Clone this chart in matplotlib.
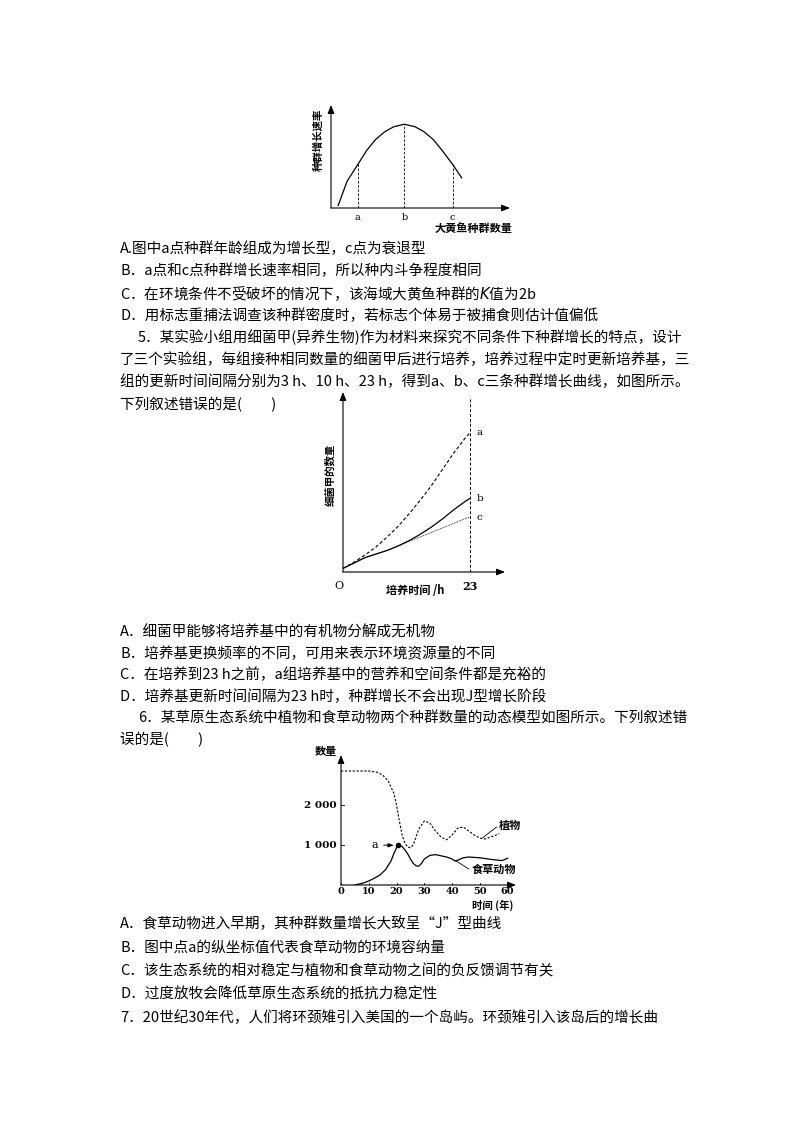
import matplotlib
matplotlib.use("Agg")
import matplotlib.pyplot as plt

plt.rcParams['font.family'] = ['Noto Sans CJK SC', 'DejaVu Sans']

# ---- data ----
# chart 1: growth rate vs population size
c1_x = [0.4, 0.9, 1.5, 2.0, 2.5, 3.0, 3.5, 4.1, 4.7, 5.2, 5.7, 6.2, 6.8, 7.3]
c1_y = [0.03, 0.32, 0.52, 0.69, 0.82, 0.91, 0.97, 1.0, 0.97, 0.91, 0.82, 0.69, 0.52, 0.36]
c1_ticks = {'a': 1.5, 'b': 4.1, 'c': 6.8}

# chart 2: bacteria counts
c2_t = [0, 2, 4, 6, 8, 10, 12, 14, 16, 18, 20, 22, 23]
c2_a = [0.2, 0.55, 0.95, 1.4, 1.95, 2.55, 3.25, 4.0, 4.8, 5.7, 6.6, 7.4, 7.75]
c2_b = [0.2, 0.5, 0.8, 1.0, 1.2, 1.45, 1.75, 2.1, 2.5, 2.95, 3.45, 3.9, 4.1]
c2_c = [0.2, 0.5, 0.8, 1.0, 1.2, 1.45, 1.7, 1.95, 2.2, 2.45, 2.7, 2.95, 3.05]

# chart 3: plants and herbivores
plant_t = [0, 5, 10, 13, 15, 17, 19, 20, 21, 22, 23, 24, 25, 26, 27, 28, 30, 32, 34, 36, 38, 40, 42, 44, 46, 48, 50, 52, 55, 57]
plant_v = [2850, 2850, 2850, 2820, 2750, 2600, 2300, 2000, 1600, 1250, 1050, 950, 930, 1000, 1200, 1400, 1600, 1550, 1350, 1200, 1130, 1250, 1420, 1450, 1350, 1250, 1170, 1150, 1230, 1280]
herb_t = [5, 8, 10, 12, 14, 16, 18, 19, 20, 21, 22, 23, 24, 25, 26, 27, 28, 29, 30, 32, 34, 36, 38, 40, 41, 42, 44, 46, 50, 54, 58, 60]
herb_v = [0, 50, 100, 170, 250, 380, 600, 780, 930, 990, 960, 880, 780, 650, 540, 480, 470, 540, 650, 740, 760, 730, 700, 650, 600, 620, 680, 700, 680, 640, 610, 670]
c3_xticks = [0, 10, 20, 30, 40, 50, 60]
c3_yticks = [1000, 2000]
c3_ylabels = ['1 000', '2 000']

W, H = 800, 1132
fig = plt.figure(figsize=(8, 11.32), dpi=100)

def T(x, y, s, **kw):
    kw.setdefault('fontsize', 10.5)
    fig.text(x / W, 1 - y / H, s, va='center', ha=kw.pop('ha', 'left'), **kw)

def axes_px(l, b, r, t):
    ax = fig.add_axes([l / W, 1 - b / H, (r - l) / W, (b - t) / H])
    ax.set_axis_off()
    return ax

arrow = dict(arrowstyle='-|>,head_length=0.5,head_width=0.2', color='black', lw=0.8, shrinkA=0, shrinkB=0)

# ---- chart 1 ----
ax1 = axes_px(331, 208, 510, 105)
ax1.set_xlim(0, 10); ax1.set_ylim(0, 1.23)
ax1.annotate('', xy=(10, 0), xytext=(0, 0), arrowprops=arrow, annotation_clip=False)
ax1.annotate('', xy=(0, 1.23), xytext=(0, 0), arrowprops=arrow, annotation_clip=False)
ax1.plot(c1_x, c1_y, color='black', lw=0.9)
for lab, xv in c1_ticks.items():
    yv = c1_y[c1_x.index(xv)]
    ax1.plot([xv, xv], [0, yv], color='black', lw=0.6, dashes=(3, 2))
    ax1.text(xv, -0.06, lab, ha='center', va='top', fontsize=7, family='DejaVu Serif')
T(318, 140, '种群增长速率', fontsize=7.5, rotation=90, ha='center', fontweight='bold')
T(474, 228, '大黄鱼种群数量', fontsize=8, ha='center', fontweight='bold')

lines1 = [
    (120, 'A.图中a点种群年龄组成为增长型，c点为衰退型'),
    (120, 'B．a点和c点种群增长速率相同，所以种内斗争程度相同'),
    (120, 'C．在环境条件不受破坏的情况下，该海域大黄鱼种群的$K$值为2b'),
    (120, 'D．用标志重捕法调查该种群密度时，若标志个体易于被捕食则估计值偏低'),
    (138, '5．某实验小组用细菌甲(异养生物)作为材料来探究不同条件下种群增长的特点，设计'),
    (120, '了三个实验组，每组接种相同数量的细菌甲后进行培养，培养过程中定时更新培养基，三'),
    (120, '组的更新时间间隔分别为3 h、10 h、23 h，得到a、b、c三条种群增长曲线，如图所示。'),
    (120, '下列叙述错误的是(　　)'),
]
for i, (x, s) in enumerate(lines1):
    T(x, 249 + i * 22.2, s)

# ---- chart 2 ----
ax2 = axes_px(343, 572, 505, 392)
ax2.set_xlim(0, 29.3); ax2.set_ylim(0, 10)
ax2.annotate('', xy=(29.3, 0), xytext=(0, 0), arrowprops=arrow, annotation_clip=False)
ax2.annotate('', xy=(0, 10), xytext=(0, 0), arrowprops=arrow, annotation_clip=False)
ax2.plot(c2_t, c2_a, color='black', lw=0.8, dashes=(3, 2))
ax2.plot(c2_t, c2_b, color='black', lw=0.9)
ax2.plot(c2_t, c2_c, color='black', lw=0.6, dashes=(1, 1))
ax2.plot([23, 23], [0, 9.6], color='black', lw=0.7, dashes=(3, 2))
for lab, ser in (('a', c2_a), ('b', c2_b), ('c', c2_c)):
    ax2.text(24.2, ser[-1], lab, fontsize=7.5, va='center', family='DejaVu Serif')
ax2.text(-0.8, -0.5, 'O', fontsize=8, ha='center', va='top', family='DejaVu Serif')
ax2.text(23, -0.5, '23', fontsize=8, ha='center', va='top', family='DejaVu Serif', fontweight='bold')
T(415, 590, '培养时间 /h', fontsize=8, ha='center', fontweight='bold')
T(330, 475, '细菌甲的数量', fontsize=7.5, rotation=90, ha='center', fontweight='bold')

lines2 = [
    (120, 'A．细菌甲能够将培养基中的有机物分解成无机物'),
    (120, 'B．培养基更换频率的不同，可用来表示环境资源量的不同'),
    (120, 'C．在培养到23 h之前，a组培养基中的营养和空间条件都是充裕的'),
    (120, 'D．培养基更新时间间隔为23 h时，种群增长不会出现J型增长阶段'),
    (138, '6．某草原生态系统中植物和食草动物两个种群数量的动态模型如图所示。下列叙述错'),
    (120, '误的是(　　)'),
]
for i, (x, s) in enumerate(lines2):
    T(x, 632 + i * 21.6, s)

# ---- chart 3 ----
ax3 = axes_px(341, 885, 516, 755)
ax3.set_xlim(0, 63); ax3.set_ylim(0, 3250)
ax3.annotate('', xy=(63, 0), xytext=(0, 0), arrowprops=arrow, annotation_clip=False)
ax3.annotate('', xy=(0, 3250), xytext=(0, 0), arrowprops=arrow, annotation_clip=False)
ax3.plot(plant_t, plant_v, color='black', lw=0.8, dashes=(2, 1.5))
ax3.plot(herb_t, herb_v, color='black', lw=0.9)
for xv in c3_xticks:
    ax3.plot([xv, xv], [0, 60], color='black', lw=0.6)
    ax3.text(xv, -60, str(xv), ha='center', va='top', fontsize=7, family='DejaVu Serif', fontweight='bold')
for yv, lab in zip(c3_yticks, c3_ylabels):
    ax3.plot([0, 1], [yv, yv], color='black', lw=0.6)
    ax3.text(-1.5, yv, lab, ha='right', va='center', fontsize=7.5, family='DejaVu Serif', fontweight='bold')
ax3.plot([20.5], [990], 'o', color='black', ms=3)
ax3.annotate('a', xy=(20, 990), xytext=(11, 1000), fontsize=8, va='center', family='DejaVu Serif',
             arrowprops=dict(arrowstyle='-|>,head_length=0.4,head_width=0.15', color='black', lw=0.7))
ax3.plot([51, 56], [1180, 1450], color='black', lw=0.6)
ax3.text(57, 1500, '植物', fontsize=8, va='center', fontweight='bold')
ax3.plot([41, 46], [620, 400], color='black', lw=0.6)
ax3.text(47, 400, '食草动物', fontsize=8, va='center', fontweight='bold')
T(326, 752, '数量', fontsize=8, ha='center', fontweight='bold')
T(493, 905, '时间 (年)', fontsize=7.5, ha='center', fontweight='bold')

lines3 = [
    (120, 'A．食草动物进入早期，其种群数量增长大致呈“J”型曲线'),
    (120, 'B．图中点a的纵坐标值代表食草动物的环境容纳量'),
    (120, 'C．该生态系统的相对稳定与植物和食草动物之间的负反馈调节有关'),
    (120, 'D．过度放牧会降低草原生态系统的抵抗力稳定性'),
    (120, '7．20世纪30年代，人们将环颈雉引入美国的一个岛屿。环颈雉引入该岛后的增长曲'),
]
for i, (x, s) in enumerate(lines3):
    T(x, 924 + i * 23.5, s)

fig.savefig('out.png', dpi=100, facecolor='white')
